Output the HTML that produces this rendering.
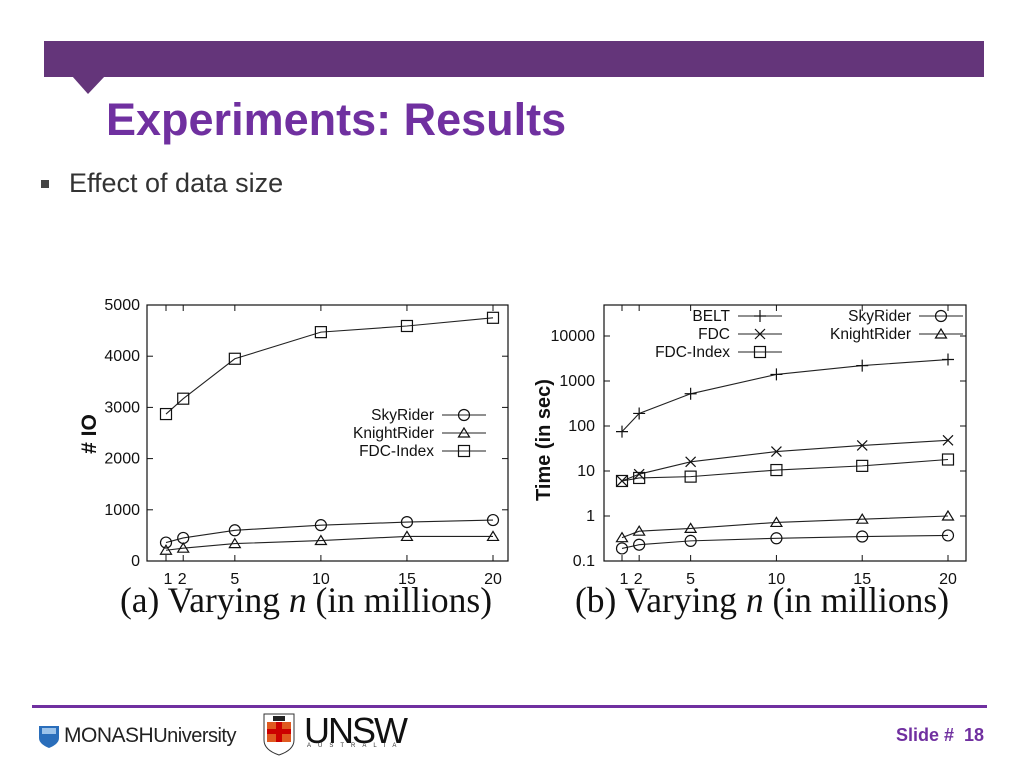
<!DOCTYPE html>
<html><head><meta charset="utf-8"><style>
body{margin:0;width:1024px;height:768px;background:#fff;position:relative;overflow:hidden;font-family:"Liberation Sans",sans-serif}
.abs{position:absolute}
</style></head><body>
<div class="abs" style="left:44px;top:41px;width:940px;height:36px;background:#64357a"></div>
<svg class="abs" style="left:0;top:0" width="1024" height="100"><polygon points="72,76 105,76 88,94" fill="#64357a"/></svg>
<div class="abs" style="left:106px;top:94px;font-size:45px;font-weight:bold;color:#7030a0">Experiments: Results</div>
<div class="abs" style="left:41px;top:180px;width:8px;height:8px;background:#444"></div>
<div class="abs" style="left:69px;top:168px;font-size:27px;color:#333">Effect of data size</div>

<svg class="abs" id="chart" style="left:0;top:0" width="1024" height="768"></svg>

<div class="abs" style="left:32px;top:705px;width:955px;height:3px;background:#7030a0"></div>
<svg class="abs" style="left:38px;top:724px" width="22" height="24"><path d="M1,2 H21 V14 Q21,20 11,24 Q1,20 1,14 Z" fill="#2a6ebb"/><rect x="4" y="4" width="14" height="6" fill="#9cc3ea"/></svg>
<div class="abs" style="left:64px;top:724px;font-size:21px;color:#222;letter-spacing:-0.5px"><b style="font-weight:normal">MONASH</b><span style="font-size:20px">University</span></div>
<svg class="abs" style="left:262px;top:712px" width="34" height="44"><path d="M2,2 H32 V28 Q32,38 17,43 Q2,38 2,28 Z" fill="#fff" stroke="#333"/><rect x="5" y="10" width="24" height="20" fill="#e05a20"/><rect x="14" y="10" width="6" height="20" fill="#c00"/><rect x="5" y="17" width="24" height="5" fill="#c00"/><rect x="11" y="4" width="12" height="5" fill="#222"/></svg>
<div class="abs" style="left:304px;top:710px;font-size:36px;color:#111;letter-spacing:-2px">UNSW</div>
<div class="abs" style="left:307px;top:743px;font-size:6px;color:#333;letter-spacing:7px">AUSTRALIA</div>
<div class="abs" style="left:896px;top:725px;font-size:18px;font-weight:bold;color:#7030a0">Slide #&nbsp; 18</div>

<script>
const xCats=[1,2,5,10,15,20];
const ioFdcIndex=[2870,3170,3950,4470,4590,4750];
const ioSky=[360,450,600,700,760,800];
const ioKnight=[210,250,340,400,480,480];
const yTicksA=[0,1000,2000,3000,4000,5000];
const tBelt=[75,190,520,1400,2200,3000];
const tFdc=[6,8.5,16,27,37,48];
const tFdcIndex=[6,7,7.5,10.5,13,18];
const tKnight=[0.33,0.46,0.53,0.72,0.85,1.0];
const tSky=[0.19,0.23,0.28,0.32,0.35,0.37];
const yTicksB=[0.1,1,10,100,1000,10000];

const svg=document.getElementById('chart');
const NS='http://www.w3.org/2000/svg';
function mk(t,a,p){const e=document.createElementNS(NS,t);for(const k in a)e.setAttribute(k,a[k]);(p||svg).appendChild(e);return e;}
function txt(x,y,s,size,anchor,extra){const e=mk('text',Object.assign({x:x,y:y,'font-size':size,'text-anchor':anchor||'middle','font-family':'Liberation Sans, sans-serif',fill:'#111'},extra||{}));e.textContent=s;return e;}
function marker(kind,x,y,g){
  const st={fill:'none',stroke:'#111','stroke-width':1.2};
  if(kind==='circle')mk('circle',Object.assign({cx:x,cy:y,r:5.5},st),g);
  else if(kind==='square')mk('rect',Object.assign({x:x-5.5,y:y-5.5,width:11,height:11},st),g);
  else if(kind==='tri')mk('polygon',Object.assign({points:`${x},${y-5} ${x-5.5},${y+4} ${x+5.5},${y+4}`},st),g);
  else if(kind==='plus'){mk('path',Object.assign({d:`M${x-6},${y}H${x+6}M${x},${y-6}V${y+6}`},st),g);}
  else if(kind==='cross'){mk('path',Object.assign({d:`M${x-5},${y-5}L${x+5},${y+5}M${x+5},${y-5}L${x-5},${y+5}`},st),g);}
}
function series(name,xs,ys,xf,yf,kind){
  const g=mk('g',{});
  
  
  const pts=xs.map((x,i)=>xf(x)+','+yf(ys[i])).join(' ');
  mk('polyline',{points:pts,fill:'none',stroke:'#222','stroke-width':1.1},g);
  xs.forEach((x,i)=>marker(kind,xf(x),yf(ys[i]),g));
}
function legend(name,x,y,label,kind){
  const g=mk('g',{});
  
  
  const t=txt(x,y+5,label,15.5,'end');g.appendChild(t);
  mk('line',{x1:x+8,y1:y,x2:x+52,y2:y,stroke:'#222','stroke-width':1.1},g);
  marker(kind,x+30,y,g);
}
// Chart A
const ax=v=>166+(v-1)*(327/19), ay=v=>561-v*(256/5000);
const frA=mk('rect',{x:147,y:305,width:361,height:256,fill:'none',stroke:'#111','stroke-width':1.2});


yTicksA.forEach(v=>{mk('line',{x1:147,y1:ay(v),x2:153,y2:ay(v),stroke:'#111'});mk('line',{x1:502,y1:ay(v),x2:508,y2:ay(v),stroke:'#111'});txt(140,ay(v)+5,String(v),16,'end');});
xCats.forEach(v=>{mk('line',{x1:ax(v),y1:561,x2:ax(v),y2:555,stroke:'#111'});mk('line',{x1:ax(v),y1:305,x2:ax(v),y2:311,stroke:'#111'});txt(ax(v)+(v===1?2:v===2?-1:0),584,String(v),16);});
const yla=txt(96,434,'# IO',21,'middle',{transform:'rotate(-90 96 434)','font-weight':'bold'});

const xla=txt(306,612,'',35.5,'middle',{'font-family':'Liberation Serif, serif'});
xla.innerHTML='(a) Varying <tspan font-style="italic">n</tspan> (in millions)';

series('chart-a-fdc-index',xCats,ioFdcIndex,ax,ay,'square');
series('chart-a-skyrider',xCats,ioSky,ax,ay,'circle');
series('chart-a-knightrider',xCats,ioKnight,ax,ay,'tri');
legend('chart-a-legend-skyrider',434,415,'SkyRider','circle');
legend('chart-a-legend-knightrider',434,433,'KnightRider','tri');
legend('chart-a-legend-fdc-index',434,451,'FDC-Index','square');
// Chart B
const bx=v=>622+(v-1)*(326/19), by=v=>561-(Math.log10(v)+1)*45;
const frB=mk('rect',{x:604,y:305,width:362,height:256,fill:'none',stroke:'#111','stroke-width':1.2});


yTicksB.forEach(v=>{mk('line',{x1:604,y1:by(v),x2:610,y2:by(v),stroke:'#111'});mk('line',{x1:960,y1:by(v),x2:966,y2:by(v),stroke:'#111'});txt(595,by(v)+5,String(v),16,'end');});
xCats.forEach(v=>{mk('line',{x1:bx(v),y1:561,x2:bx(v),y2:555,stroke:'#111'});mk('line',{x1:bx(v),y1:305,x2:bx(v),y2:311,stroke:'#111'});txt(bx(v)+(v===1?2:v===2?-1:0),584,String(v),16);});
const ylb=txt(550,440,'Time (in sec)',20,'middle',{transform:'rotate(-90 550 440)','font-weight':'bold'});

const xlb=txt(762,612,'',35.5,'middle',{'font-family':'Liberation Serif, serif'});
xlb.innerHTML='(b) Varying <tspan font-style="italic">n</tspan> (in millions)';

series('chart-b-belt',xCats,tBelt,bx,by,'plus');
series('chart-b-fdc',xCats,tFdc,bx,by,'cross');
series('chart-b-fdc-index',xCats,tFdcIndex,bx,by,'square');
series('chart-b-knightrider',xCats,tKnight,bx,by,'tri');
series('chart-b-skyrider',xCats,tSky,bx,by,'circle');
legend('chart-b-legend-belt',730,316,'BELT','plus');
legend('chart-b-legend-fdc',730,334,'FDC','cross');
legend('chart-b-legend-fdc-index',730,352,'FDC-Index','square');
legend('chart-b-legend-skyrider',911,316,'SkyRider','circle');
legend('chart-b-legend-knightrider',911,334,'KnightRider','tri');
</script>
</body></html>
